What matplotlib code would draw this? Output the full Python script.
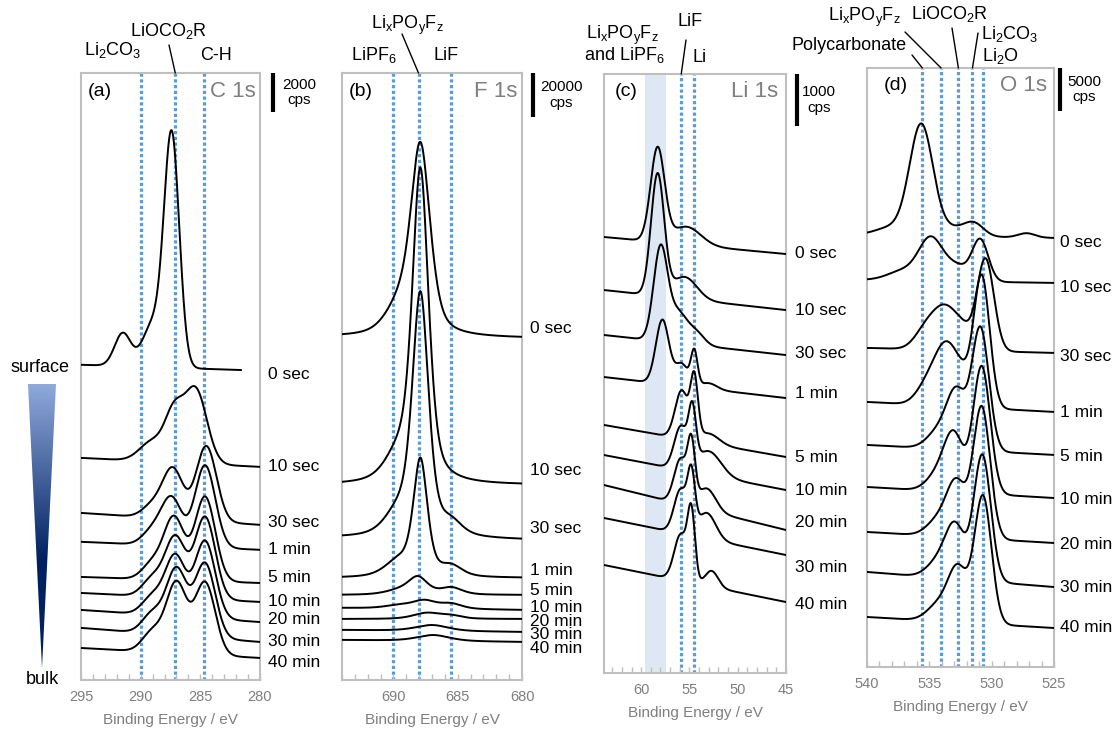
import numpy as np
import matplotlib.pyplot as plt
from matplotlib.colors import LinearSegmentedColormap
from matplotlib.patches import Polygon, ConnectionPatch
from matplotlib.ticker import MultipleLocator
from matplotlib.transforms import blended_transform_factory

plt.rcParams['font.family'] = ['Liberation Sans', 'DejaVu Sans']
plt.rcParams['mathtext.default'] = 'regular'

W, H = 1120, 729

times = ['0 sec', '10 sec', '30 sec', '1 min', '5 min', '10 min', '20 min', '30 min', '40 min']

# peaks are (binding energy eV, height cps, fwhm eV); baselines in cps
c1s_left = [16150, 11380, 8560, 7080, 5280, 4460, 3590, 2670, 1640]
c1s_right = [15850, 10920, 7950, 6670, 4970, 4000, 2970, 1950, 1130]
c1s_end = [281.6, 280, 280, 280, 280, 280, 280, 280, 280]
c1s_label_y = [15640, 10920, 8050, 6670, 5230, 4000, 3080, 1950, 920]
c1s_peaks = [
    [(291.5, 1690, 1.6), (289.0, 2150, 2.0), (287.4, 11800, 1.5)],
    [(289.0, 1030, 2.5), (287.2, 2310, 1.8), (285.4, 3790, 2.2)],
    [(289.0, 620, 2.0), (287.3, 2560, 2.0), (284.5, 3850, 2.0)],
    [(289.0, 720, 2.0), (287.4, 2410, 2.0), (284.6, 4200, 2.0)],
    [(289.0, 820, 2.0), (287.2, 3180, 2.0), (284.6, 4310, 2.0)],
    [(289.0, 920, 2.0), (287.1, 3080, 2.0), (284.6, 4200, 2.0)],
    [(289.0, 920, 2.0), (287.1, 3080, 2.0), (284.6, 3950, 2.0)],
    [(289.0, 1030, 2.0), (287.0, 3380, 2.0), (284.6, 3790, 2.0)],
    [(289.0, 1030, 2.0), (287.0, 3590, 2.0), (284.6, 3690, 2.0)],
]

f1s_left = [155900, 88640, 64540, 46360, 38630, 32720, 27720, 22730, 18180]
f1s_right = [155400, 88640, 63630, 46360, 38630, 31820, 27720, 21820, 17270]
f1s_end = [680] * 9
f1s_label_y = [160000, 95450, 69080, 50000, 40900, 33180, 26800, 20900, 14540]
f1s_peaks = [
    [(689.6, 11360, 2.5), (687.9, 85450, 1.8)],
    [(689.6, 11360, 2.5), (687.9, 140900, 1.5)],
    [(689.6, 10000, 2.5), (687.9, 109100, 1.5), (685.5, 5450, 2.0)],
    [(689.6, 6820, 2.5), (687.9, 52270, 1.3), (685.5, 4550, 2.0)],
    [(689.6, 1820, 2.5), (688.1, 7730, 1.8), (685.5, 3180, 2.0)],
    [(689.6, 1360, 2.5), (687.6, 3640, 2.2), (685.5, 2270, 2.0)],
    [(687.4, 2730, 2.5), (685.5, 1360, 2.0)],
    [(687.0, 2730, 3.0)],
    [(686.9, 2730, 3.0)],
]

li1s_left = [8385, 7365, 6500, 5692, 4770, 4192, 3615, 2981, 2077]
li1s_right = [8058, 6980, 6115, 5288, 4154, 3519, 2750, 2269, 1365]
li1s_end = [45] * 9
li1s_label_y = [8077, 6981, 6154, 5384, 4154, 3519, 2904, 2038, 1308]
li1s_peaks = [
    [(58.3, 1788, 1.7), (55.3, 346, 3.5)],
    [(58.3, 2327, 1.6), (55.5, 423, 3.0)],
    [(58.0, 1769, 1.7), (56.2, 577, 2.2), (54.3, 231, 2.0)],
    [(57.8, 1231, 1.6), (55.8, 423, 1.6), (54.5, 654, 0.8), (53.0, 115, 2.0)],
    [(55.8, 923, 1.6), (54.5, 1115, 0.9), (53.0, 192, 2.5)],
    [(55.9, 808, 1.6), (54.7, 1000, 0.9), (53.0, 462, 3.0)],
    [(55.9, 865, 1.6), (54.8, 1058, 0.9), (53.2, 423, 2.2)],
    [(55.9, 846, 1.6), (54.8, 1019, 0.9), (53.2, 500, 2.2)],
    [(55.9, 885, 1.6), (54.8, 1269, 0.9), (52.7, 308, 1.6)],
]

o1s_left = [50240, 45010, 37100, 30820, 25820, 20930, 15700, 11050, 5815]
o1s_right = [49890, 44660, 36520, 29660, 24660, 19650, 14420, 9300, 4535]
o1s_end = [525] * 9
o1s_label_y = [49310, 44080, 36050, 29540, 24420, 19420, 14190, 9190, 4540]
o1s_peaks = [
    [(538.0, 930, 3.0), (535.65, 12790, 2.2), (533.0, 930, 3.0), (531.4, 1280, 1.8), (527.2, 500, 1.6)],
    [(537.0, 1160, 3.0), (534.9, 4650, 2.2), (532.8, 1745, 2.5), (530.9, 4650, 1.5)],
    [(535.4, 1630, 2.0), (533.7, 5000, 2.6), (532.2, 1050, 1.5), (530.5, 10700, 1.6)],
    [(535.3, 1630, 2.0), (533.6, 7210, 2.4), (532.2, 1400, 1.5), (530.8, 15240, 1.5)],
    [(534.2, 2090, 2.2), (532.8, 6400, 1.8), (530.9, 14190, 1.6)],
    [(534.2, 2090, 2.2), (533.0, 6160, 1.8), (530.8, 14770, 1.6)],
    [(534.2, 1980, 2.2), (532.8, 6050, 1.8), (530.8, 15240, 1.6)],
    [(534.2, 1980, 2.2), (532.9, 5815, 1.8), (530.75, 14650, 1.6)],
    [(534.2, 1980, 2.2), (532.7, 6050, 1.8), (530.7, 14770, 1.6)],
]

c1s_refs = [290.0, 287.1, 284.7]
f1s_refs = [690.0, 688.05, 685.5]
li1s_refs = [55.85, 54.55]
li1s_band = (59.6, 57.45)
o1s_refs = [535.56, 534.06, 532.67, 531.54, 530.66]

panels = [
    dict(letter='(a)', core='C 1s', xlim=(295, 280), ytop=31100, scale=2000, eta=0.0,
         left=c1s_left, right=c1s_right, end=c1s_end, peaks=c1s_peaks, refs=c1s_refs,
         labels=c1s_label_y,
         rect=(81, 73, 260, 680), lx=1.045, bx=1.073, tx=1.218, letx=0.035, corex=0.978),
    dict(letter='(b)', core='F 1s', xlim=(694, 680), ytop=276000, scale=20000, eta=0.5,
         left=f1s_left, right=f1s_right, end=f1s_end, peaks=f1s_peaks, refs=f1s_refs,
         labels=f1s_label_y,
         rect=(342, 73, 522, 680), lx=1.045, bx=1.061, tx=1.217, letx=0.04, corex=0.972),
    dict(letter='(c)', core='Li 1s', xlim=(63.85, 45), ytop=11520, scale=1000, eta=0.0,
         left=li1s_left, right=li1s_right, end=li1s_end, peaks=li1s_peaks, refs=li1s_refs,
         labels=li1s_label_y,
         rect=(604, 74, 786, 673), lx=1.05, bx=1.060, tx=1.181, letx=0.06, corex=0.956),
    dict(letter='(d)', core='O 1s', xlim=(540, 525), ytop=69650, scale=5000, eta=0.0,
         left=o1s_left, right=o1s_right, end=o1s_end, peaks=o1s_peaks, refs=o1s_refs,
         labels=o1s_label_y,
         rect=(867, 68, 1054, 667), lx=1.032, bx=1.032, tx=1.16, letx=0.09, corex=0.963),
]

GRAY = '#BFBFBF'
TXT = '#7F7F7F'
BLUE = '#5B9BD5'


def pv(e, c, h, w, eta):
    x = (e - c) / w
    return h * ((1 - eta) * np.exp(-4 * np.log(2) * x ** 2) + eta / (1 + 4 * x ** 2))


fig = plt.figure(figsize=(W / 100, H / 100), dpi=100)
axes = []
for p in panels:
    l, t, r, b = p['rect']
    ax = fig.add_axes([l / W, 1 - b / H, (r - l) / W, (b - t) / H])
    axes.append(ax)
    hi, lo = p['xlim']
    ax.set_xlim(hi, lo)
    ax.set_ylim(0, p['ytop'])
    ax.set_yticks([])
    ax.xaxis.set_major_locator(MultipleLocator(5))
    ax.xaxis.set_minor_locator(MultipleLocator(1))
    ax.tick_params(axis='x', which='both', direction='in', length=4, width=1,
                   color=GRAY, labelcolor=TXT, labelsize=10.5, pad=7)
    for s in ax.spines.values():
        s.set_color(GRAY)
        s.set_linewidth(1.5)
    ax.set_xlabel('Binding Energy / eV', color=TXT, fontsize=11, labelpad=7)

    for ref in p['refs']:
        ax.axvline(ref, color=BLUE, lw=2.3, linestyle=(0, (1, 0.8)), zorder=1)
    if p['core'] == 'Li 1s':
        ax.axvspan(*li1s_band, color='#DDE8F4', lw=0, zorder=0)

    tr = blended_transform_factory(ax.transAxes, ax.transData)
    for i, name in enumerate(times):
        e = np.linspace(hi, p['end'][i], 900)
        y = p['left'][i] + (p['right'][i] - p['left'][i]) * (hi - e) / (hi - lo)
        for c, h, w in p['peaks'][i]:
            y = y + pv(e, c, h, w, p['eta'])
        ax.plot(e, y, color='black', lw=1.4, zorder=3)
        ax.text(p['lx'], p['labels'][i], name, transform=tr, fontsize=12.5, va='center', ha='left')

    ax.text(p['letx'], 0.97, p['letter'], transform=ax.transAxes, fontsize=14, va='center', ha='left')
    ax.text(p['corex'], 0.97, p['core'], transform=ax.transAxes, fontsize=16, va='center',
            ha='right', color=TXT)

    top = p['ytop']
    ax.plot([p['bx'], p['bx']], [top, top - p['scale']], transform=tr, clip_on=False,
            color='black', lw=3, solid_capstyle='butt')
    ax.text(p['tx'], top - p['scale'] / 2, f"{p['scale']}\ncps", transform=tr, fontsize=11,
            ha='center', va='center', linespacing=1.15)


def fig_text(x, y, s):
    fig.text(x / W, 1 - y / H, s, fontsize=13, ha='center', va='center')


def leader(ax, x, y, energy):
    con = ConnectionPatch(xyA=(x, H - y), coordsA='figure pixels', xyB=(energy, 1.0),
                          coordsB=ax.get_xaxis_transform(), color='black', lw=1)
    fig.add_artist(con)


ax_a, ax_b, ax_c, ax_d = axes
fig_text(113, 50, 'Li$_2$CO$_3$')
fig_text(168, 31, 'LiOCO$_2$R')
fig_text(216, 55, 'C-H')
leader(ax_a, 169, 45, c1s_refs[1])

fig_text(407, 25, 'Li$_x$PO$_y$F$_z$')
fig_text(374, 55, 'LiPF$_6$')
fig_text(446, 56, 'LiF')
leader(ax_b, 402, 34, f1s_refs[1])

fig_text(622, 35, 'Li$_x$PO$_y$F$_z$')
fig_text(624, 55, 'and LiPF$_6$')
fig_text(690, 22, 'LiF')
fig_text(700, 57, 'Li')
leader(ax_c, 686, 40, li1s_refs[0])

fig_text(864, 17, 'Li$_x$PO$_y$F$_z$')
fig_text(849, 45, 'Polycarbonate')
fig_text(949, 14, 'LiOCO$_2$R')
fig_text(1010, 34, 'Li$_2$CO$_3$')
fig_text(1000, 56, 'Li$_2$O')
leader(ax_d, 912, 55, o1s_refs[0])
leader(ax_d, 905, 32, o1s_refs[1])
leader(ax_d, 952, 28, o1s_refs[2])
leader(ax_d, 978, 33, o1s_refs[3])

# surface -> bulk wedge
ax_t = fig.add_axes([28 / W, 1 - 668 / H, 28 / W, 284 / H])
ax_t.axis('off')
cmap = LinearSegmentedColormap.from_list('depth', [(0, '#8FAADC'), (0.62, '#002060'), (1, '#002060')])
grad = np.linspace(0, 1, 256).reshape(-1, 1)
im = ax_t.imshow(grad, extent=[0, 1, 0, 1], aspect='auto', cmap=cmap, origin='upper')
ax_t.set_xlim(0, 1)
ax_t.set_ylim(0, 1)
im.set_clip_path(Polygon([(0, 1), (1, 1), (0.5, 0)], transform=ax_t.transData))
fig.text(40 / W, 1 - 367 / H, 'surface', fontsize=13, ha='center', va='center')
fig.text(42 / W, 1 - 679 / H, 'bulk', fontsize=13, ha='center', va='center')

fig.savefig('out.png', dpi=100)
